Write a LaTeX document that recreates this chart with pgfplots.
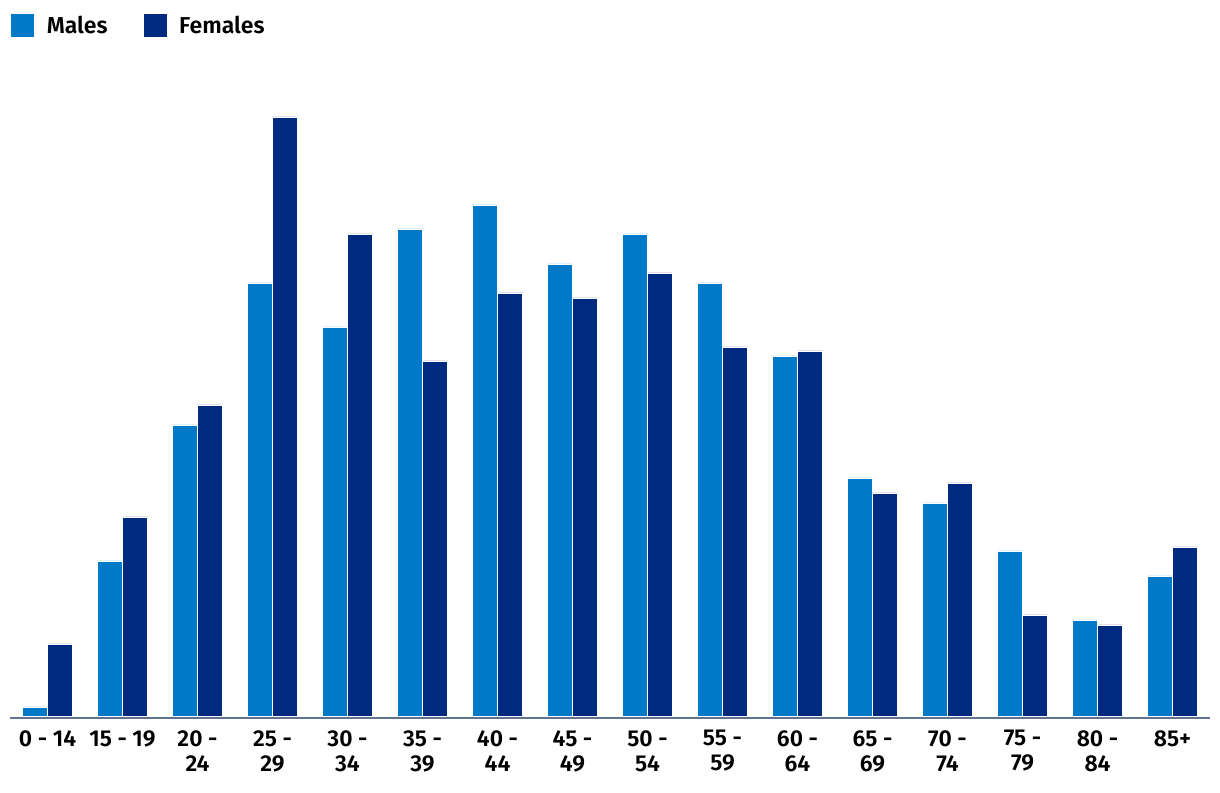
\documentclass[border=0pt]{standalone}
\usepackage{pgfplots}
\pgfplotsset{compat=1.18}
\usepackage{fontspec}
\setmainfont{Fira Sans}[UprightFont=* SemiBold]
\definecolor{males}{HTML}{0079C8}
\definecolor{females}{HTML}{002A7F}
\definecolor{axisgrey}{HTML}{5F7290}
\begin{document}
\begin{tikzpicture}
\path[use as bounding box] (0,0) rectangle (1220pt,792pt);
\begin{axis}[
  at={(10pt,74pt)}, anchor=south west,
  scale only axis, width=1200pt, height=658pt,
  xmin=-0.5, xmax=15.5, ymin=-2, ymax=656,
  axis x line=bottom, axis y line=none,
  x axis line style={-, draw=axisgrey, line width=2pt},
  ytick=\empty, xtick=data, major tick length=0pt,
  xticklabels={{0 - 14},{15 - 19},{20 -\\24},{25 -\\29},{30 -\\34},{35 -\\39},{40 -\\44},{45 -\\49},{50 -\\54},{55 -\\59},{60 -\\64},{65 -\\69},{70 -\\74},{75 -\\79},{80 -\\84},{85+}},
  xticklabel style={align=center, font=\fontsize{23}{25}\selectfont, text depth=0pt, inner sep=0pt, yshift=-12pt},
  ybar, bar width=25pt,
  legend style={at={(0,1.0527)}, anchor=west, draw=none, fill=none, inner sep=0pt,
    font=\fontsize{23}{25}\selectfont, legend columns=2,
    /tikz/every even column/.append style={column sep=33pt}},
  legend cell align=left,
  legend image code/.code={\fill[#1] (0pt,-12pt) rectangle (24pt,12pt); \path (34pt,0);},
]
\addplot[fill=males, draw=white, line width=0.6pt, bar shift=-12.5pt] coordinates {
  (0,9) (1,155) (2,291) (3,433) (4,389) (5,487) (6,511) (7,452)
  (8,482) (9,433) (10,360) (11,238) (12,213) (13,165) (14,96) (15,140)
};
\addplot[fill=females, draw=white, line width=0.6pt, bar shift=12.5pt] coordinates {
  (0,72) (1,199) (2,311) (3,599) (4,482) (5,355) (6,423) (7,418)
  (8,443) (9,369) (10,365) (11,223) (12,233) (13,101) (14,91) (15,169)
};
\legend{Males, Females}
\end{axis}
\end{tikzpicture}
\end{document}
